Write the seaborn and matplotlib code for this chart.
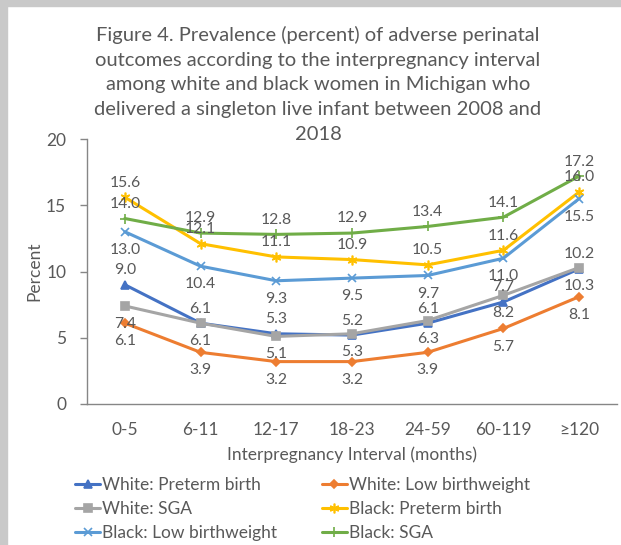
import matplotlib
matplotlib.use("Agg")
import matplotlib.pyplot as plt
import seaborn as sns
import pandas as pd

# ---- data ----
categories = ["0-5", "6-11", "12-17", "18-23", "24-59", "60-119", "≥120"]
white_preterm = [9.0, 6.1, 5.3, 5.2, 6.1, 7.7, 10.2]
white_lbw = [6.1, 3.9, 3.2, 3.2, 3.9, 5.7, 8.1]
white_sga = [7.4, 6.1, 5.1, 5.3, 6.3, 8.2, 10.3]
black_preterm = [15.6, 12.1, 11.1, 10.9, 10.5, 11.6, 16.0]
black_lbw = [13.0, 10.4, 9.3, 9.5, 9.7, 11.0, 15.5]
black_sga = [14.0, 12.9, 12.8, 12.9, 13.4, 14.1, 17.2]
series_names = ["White: Preterm birth", "White: Low birthweight", "White: SGA",
                "Black: Preterm birth", "Black: Low birthweight", "Black: SGA"]
series_values = [white_preterm, white_lbw, white_sga, black_preterm, black_lbw, black_sga]
title_text = ("Figure 4. Prevalence (percent) of adverse perinatal\n"
              "outcomes according to the interpregnancy interval\n"
              "among white and black women in Michigan who\n"
              "delivered a singleton live infant between 2008 and\n"
              "2018")

# ---- styles ----
colors = ["#4472C4", "#ED7D31", "#A5A5A5", "#FFC000", "#5B9BD5", "#70AD47"]
markers = ["^", "D", "s", (6, 2, 0), "x", "+"]
msizes = [6, 4.5, 6, 7, 6, 7]
label_pos = ["above", "below", "below", "above", "below", "above"]
text_color = "#595959"

rows = []
for name, vals in zip(series_names, series_values):
    for c, v in zip(categories, vals):
        rows.append({"Interval": c, "Percent": v, "Series": name})
df = pd.DataFrame(rows)

sns.set_style("white")
plt.rcParams["font.family"] = ["Lato", "DejaVu Sans"]

fig = plt.figure(figsize=(6.21, 5.45), dpi=100)
# screenshot frame
fig.patches.append(plt.Rectangle((0, 1 - 6 / 545), 1, 6 / 545, transform=fig.transFigure,
                                 color="#c9c9c9", zorder=0))
fig.patches.append(plt.Rectangle((0, 0), 7 / 621, 1, transform=fig.transFigure,
                                 color="#c9c9c9", zorder=0))

ax = fig.add_axes([87 / 621, (545 - 404) / 545, (617 - 87) / 621, (404 - 139) / 545])

for i, name in enumerate(series_names):
    sub = df[df["Series"] == name]
    sns.lineplot(data=sub, x="Interval", y="Percent", ax=ax, color=colors[i],
                 marker=markers[i], markersize=msizes[i], markeredgecolor=colors[i],
                 markerfacecolor=colors[i], markeredgewidth=1.2,
                 linewidth=2.2, label=name, sort=False)

for i, name in enumerate(series_names):
    for j, v in enumerate(series_values[i]):
        off = 10.5 if label_pos[i] == "above" else -13
        ax.annotate(f"{v:.1f}", (j, v), xytext=(0, off), textcoords="offset points",
                    ha="center", va="center", fontsize=11.3, color=text_color)

ax.set_ylim(0, 20)
ax.set_xlim(-0.5, len(categories) - 0.5)
ax.set_yticks([0, 5, 10, 15, 20])
ax.set_xticks(range(len(categories)))
ax.set_xticklabels(categories)
ax.set_xticks([k - 0.5 for k in range(len(categories) + 1)], minor=True)
ax.tick_params(axis="x", which="major", length=0, pad=13, labelsize=12.5, labelcolor=text_color)
ax.tick_params(axis="x", which="minor", length=5, width=1, color="#868686", direction="out")
ax.tick_params(axis="y", length=5, width=1, color="#868686", direction="out",
               labelsize=12.5, labelcolor=text_color, pad=10, left=True)
for s in ["top", "right"]:
    ax.spines[s].set_visible(False)
for s in ["left", "bottom"]:
    ax.spines[s].set_color("#868686")
    ax.spines[s].set_linewidth(1)
ax.set_xlabel("Interpregnancy Interval (months)", fontsize=12.5, color=text_color, labelpad=6)
ax.set_ylabel("Percent", fontsize=12.5, color=text_color, labelpad=2.5)

fig.text(318 / 621, 1 - 26 / 545, title_text, ha="center", va="top", fontsize=14.5,
         color=text_color, linespacing=1.55)

h, l = ax.get_legend_handles_labels()
ax.legend_.remove()
order = [0, 2, 4, 1, 3, 5]
fig.legend([h[k] for k in order], [l[k] for k in order], ncol=2, frameon=False,
           loc="upper left", bbox_to_anchor=(75 / 621, 1 - 477 / 545),
           fontsize=12.5, labelcolor=text_color, handlelength=1.44, handletextpad=0.1,
           columnspacing=2.6, labelspacing=0.45, borderaxespad=0, borderpad=0)

fig.savefig("out.png", dpi=100)
